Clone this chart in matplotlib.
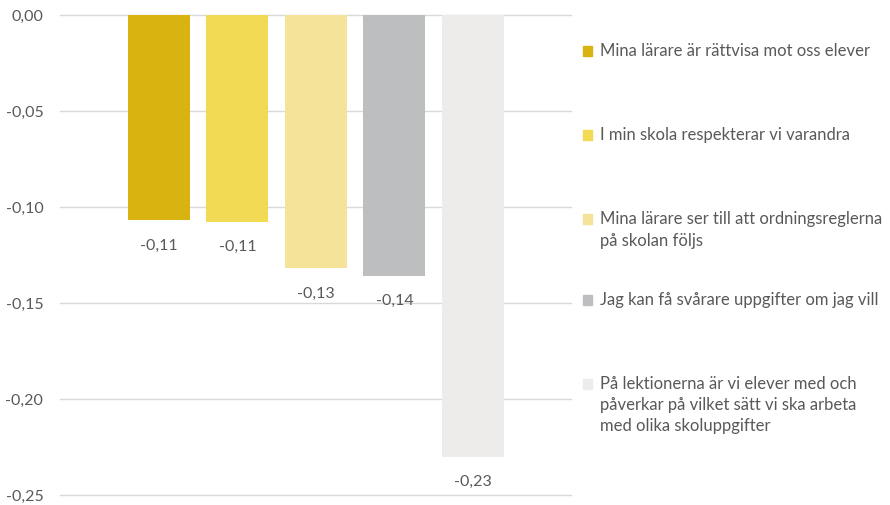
import matplotlib.pyplot as plt
from matplotlib.patches import Rectangle

plt.rcParams['font.family'] = ['Lato', 'DejaVu Sans']

labels = [
    "Mina lärare är rättvisa mot oss elever",
    "I min skola respekterar vi varandra",
    "Mina lärare ser till att ordningsreglerna\npå skolan följs",
    "Jag kan få svårare uppgifter om jag vill",
    "På lektionerna är vi elever med och\npåverkar på vilket sätt vi ska arbeta\nmed olika skoluppgifter",
]
values = [-0.107, -0.108, -0.132, -0.136, -0.230]
colors = ["#D9B310", "#F2DA55", "#F4E398", "#BDBEC0", "#EDECEA"]
yticks = [0.0, -0.05, -0.10, -0.15, -0.20, -0.25]

text_col = "#595959"

fig = plt.figure(figsize=(8.9, 5.05), dpi=100)
ax = fig.add_axes([60 / 890, 1 - 495 / 505, 511 / 890, 480 / 505])

x = list(range(len(values)))
bars = ax.bar(x, values, width=0.79, color=colors, zorder=2)
for xi, v in zip(x, values):
    ax.annotate(f"{v:.2f}".replace(".", ","), (xi, v), xytext=(0, -18),
                textcoords="offset points", ha="center", va="center",
                fontsize=11.5, color=text_col)

ax.set_xlim(-1.26, 5.25)
ax.set_ylim(-0.25, 0)
ax.set_yticks(yticks)
ax.set_yticklabels([f"{t:.2f}".replace(".", ",") for t in yticks])
ax.tick_params(axis="y", length=0, labelsize=11.5, labelcolor=text_col, pad=12)
ax.set_xticks([])
ax.grid(axis="y", color="#D9D9D9", linewidth=1, zorder=0)
for gl in ax.get_ygridlines():
    gl.set_clip_on(False)
for s in ax.spines.values():
    s.set_visible(False)

# legend, placed by hand like the original
legend_y = [51, 135, 230, 300, 405]
for lab, c, yp in zip(labels, colors, legend_y):
    fy = 1 - yp / 505
    nlines = lab.count("\n") + 1
    first_y = fy + (nlines - 1) * 21.5 / 2 / 505
    fig.patches.append(Rectangle((583 / 890, first_y - 5 / 505), 9 / 890, 10 / 505,
                                 transform=fig.transFigure, color=c))
    fig.text(600 / 890, fy, lab, ha="left", va="center", fontsize=12,
             color=text_col, linespacing=1.4)

fig.savefig("out.png", dpi=100)
